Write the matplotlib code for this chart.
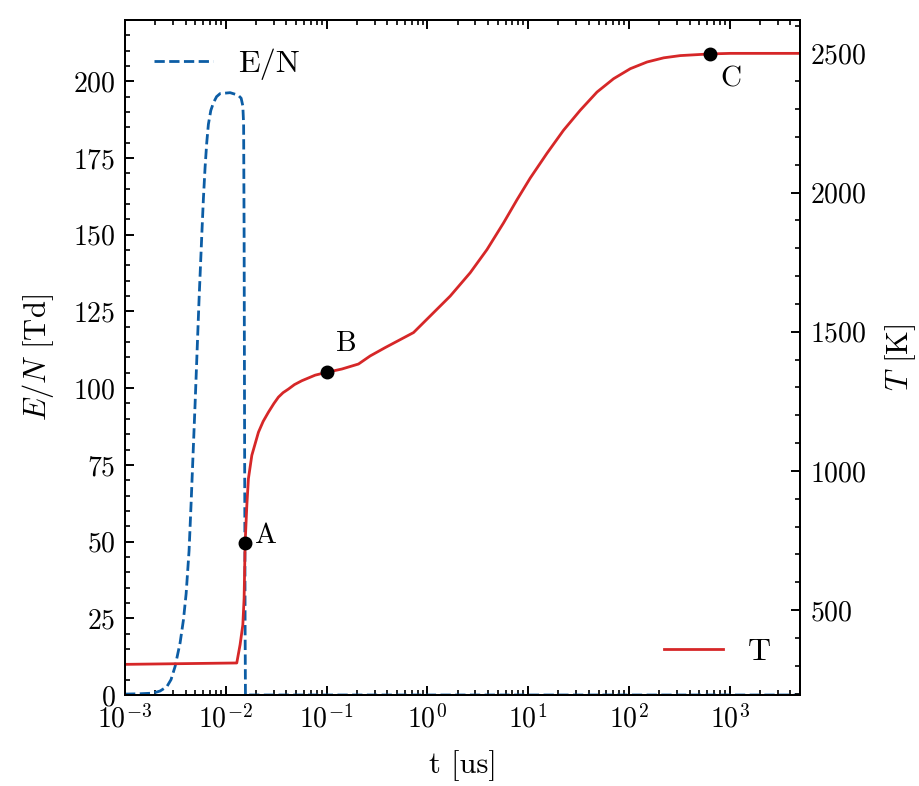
import numpy as np
import matplotlib as mpl
mpl.use("Agg")
import matplotlib.pyplot as plt
from matplotlib.ticker import AutoMinorLocator

# reduced field E/N [Td] vs time [us]
t_en = [1.0e-3, 1.04e-3, 1.41e-3, 1.90e-3, 2.23e-3, 2.60e-3, 2.86e-3, 3.14e-3,
        3.52e-3, 3.80e-3, 4.04e-3, 4.32e-3, 4.52e-3, 4.96e-3, 5.43e-3, 5.78e-3,
        6.0e-3, 6.23e-3, 6.47e-3, 6.72e-3, 7.1e-3, 7.54e-3, 8.1e-3, 8.78e-3,
        1.104e-2, 1.325e-2, 1.42e-2, 1.476e-2,
        1.503e-2, 1.52e-2, 1.538e-2, 1.556e-2, 1.567e-2, 5.0e3]
en = [0.3, 0.3, 0.4, 0.6, 1.3, 2.7, 5.0, 9.3,
      17.0, 24.5, 33.0, 47.0, 62.0, 95.0, 129.0, 150.0,
      162.0, 172.0, 180.0, 186.0, 190.5, 193.0, 195.0, 196.0,
      196.3, 195.5, 194.5, 192.0,
      186.0, 150.0, 80.0, 20.0, 0.0, 0.0]

# gas temperature T [K] vs time [us]
t_T = [1.0e-3, 1.285e-2, 1.387e-2, 1.476e-2, 1.52e-2, 1.556e-2, 1.618e-2,
       1.677e-2, 1.813e-2, 2.109e-2, 2.35e-2, 2.65e-2, 3.0e-2, 3.328e-2,
       3.7e-2, 4.185e-2, 4.8e-2, 5.69e-2, 7.71e-2, 0.1, 0.1419, 0.2075,
       0.271, 0.382, 0.73, 1.687, 2.666,
       3.908, 5.71, 7.76, 10.5, 15.4, 22.5, 33.0, 48.3, 70.6, 103.5,
       151.7, 222.0, 324.0, 640.0, 1018.0, 5.0e3]
T = [305, 310, 376, 447, 543, 742, 877,
     972, 1056, 1139, 1178, 1211, 1242, 1265,
     1281, 1294, 1310, 1324, 1344, 1354, 1366, 1384,
     1413, 1443, 1497, 1628, 1712,
     1795, 1891, 1974, 2052, 2141, 2224, 2296, 2361, 2409, 2445,
     2469, 2484, 2492, 2498, 2500, 2500]

# marked states
pt_names = ["A", "B", "C"]
pt_t = [1.556e-2, 0.1, 640.0]
pt_T = [742, 1354, 2498]
pt_offsets = [(7.5, 2.5), (7.2, 10.4), (7.6, -9.0)]

plt.rcParams["font.family"] = ["cmr10"]
plt.rcParams["mathtext.fontset"] = "cm"
plt.rcParams["axes.formatter.use_mathtext"] = True
plt.rcParams["font.size"] = 10
plt.rcParams["axes.linewidth"] = 0.7
for a in ("xtick", "ytick"):
    plt.rcParams[a + ".direction"] = "in"
    plt.rcParams[a + ".major.size"] = 3.2
    plt.rcParams[a + ".minor.size"] = 1.7
    plt.rcParams[a + ".major.width"] = 0.7
    plt.rcParams[a + ".minor.width"] = 0.6

fig = plt.figure(figsize=(4.6, 3.93), dpi=200)
ax = fig.add_axes([0.1359, 0.1158, 0.8696 - 0.1359, 0.9746 - 0.1158])
ax2 = ax.twinx()

l1, = ax.plot(t_en, en, "--", color="#0C5DA5", lw=1.0, label="E/N")
l2, = ax2.plot(t_T, T, "-", color="#d62728", lw=1.0, label="T")
ax2.plot(pt_t, pt_T, "o", color="k", ms=4, zorder=5)
for name, x, y, off in zip(pt_names, pt_t, pt_T, pt_offsets):
    ax2.annotate(name, (x, y), xytext=off, textcoords="offset points",
                 ha="center", va="center", fontsize=10.5)

ax.set_xscale("log")
ax.set_xlim(1e-3, 5e3)
ax.set_ylim(0, 220)
ax2.set_ylim(195, 2620)
ax.set_yticks([0, 25, 50, 75, 100, 125, 150, 175, 200])
ax2.set_yticks([500, 1000, 1500, 2000, 2500])
ax.yaxis.set_minor_locator(AutoMinorLocator())
ax2.yaxis.set_minor_locator(AutoMinorLocator())
ax.tick_params(which="both", top=True, right=False)
ax2.tick_params(which="both", right=True, left=False)

ax.set_xlabel("t [us]", fontsize=11, labelpad=6)
ax.set_ylabel("$E/N$ [Td]", fontsize=11, labelpad=6)
ax2.set_ylabel("$T$ [K]", fontsize=11, labelpad=6)

ax.legend(handles=[l1], loc="upper left", frameon=False, fontsize=11.5,
          handlelength=1.85)
ax2.legend(handles=[l2], loc="lower right", frameon=False, fontsize=11.5,
           handlelength=1.85)

fig.savefig("out.png", dpi=200)
